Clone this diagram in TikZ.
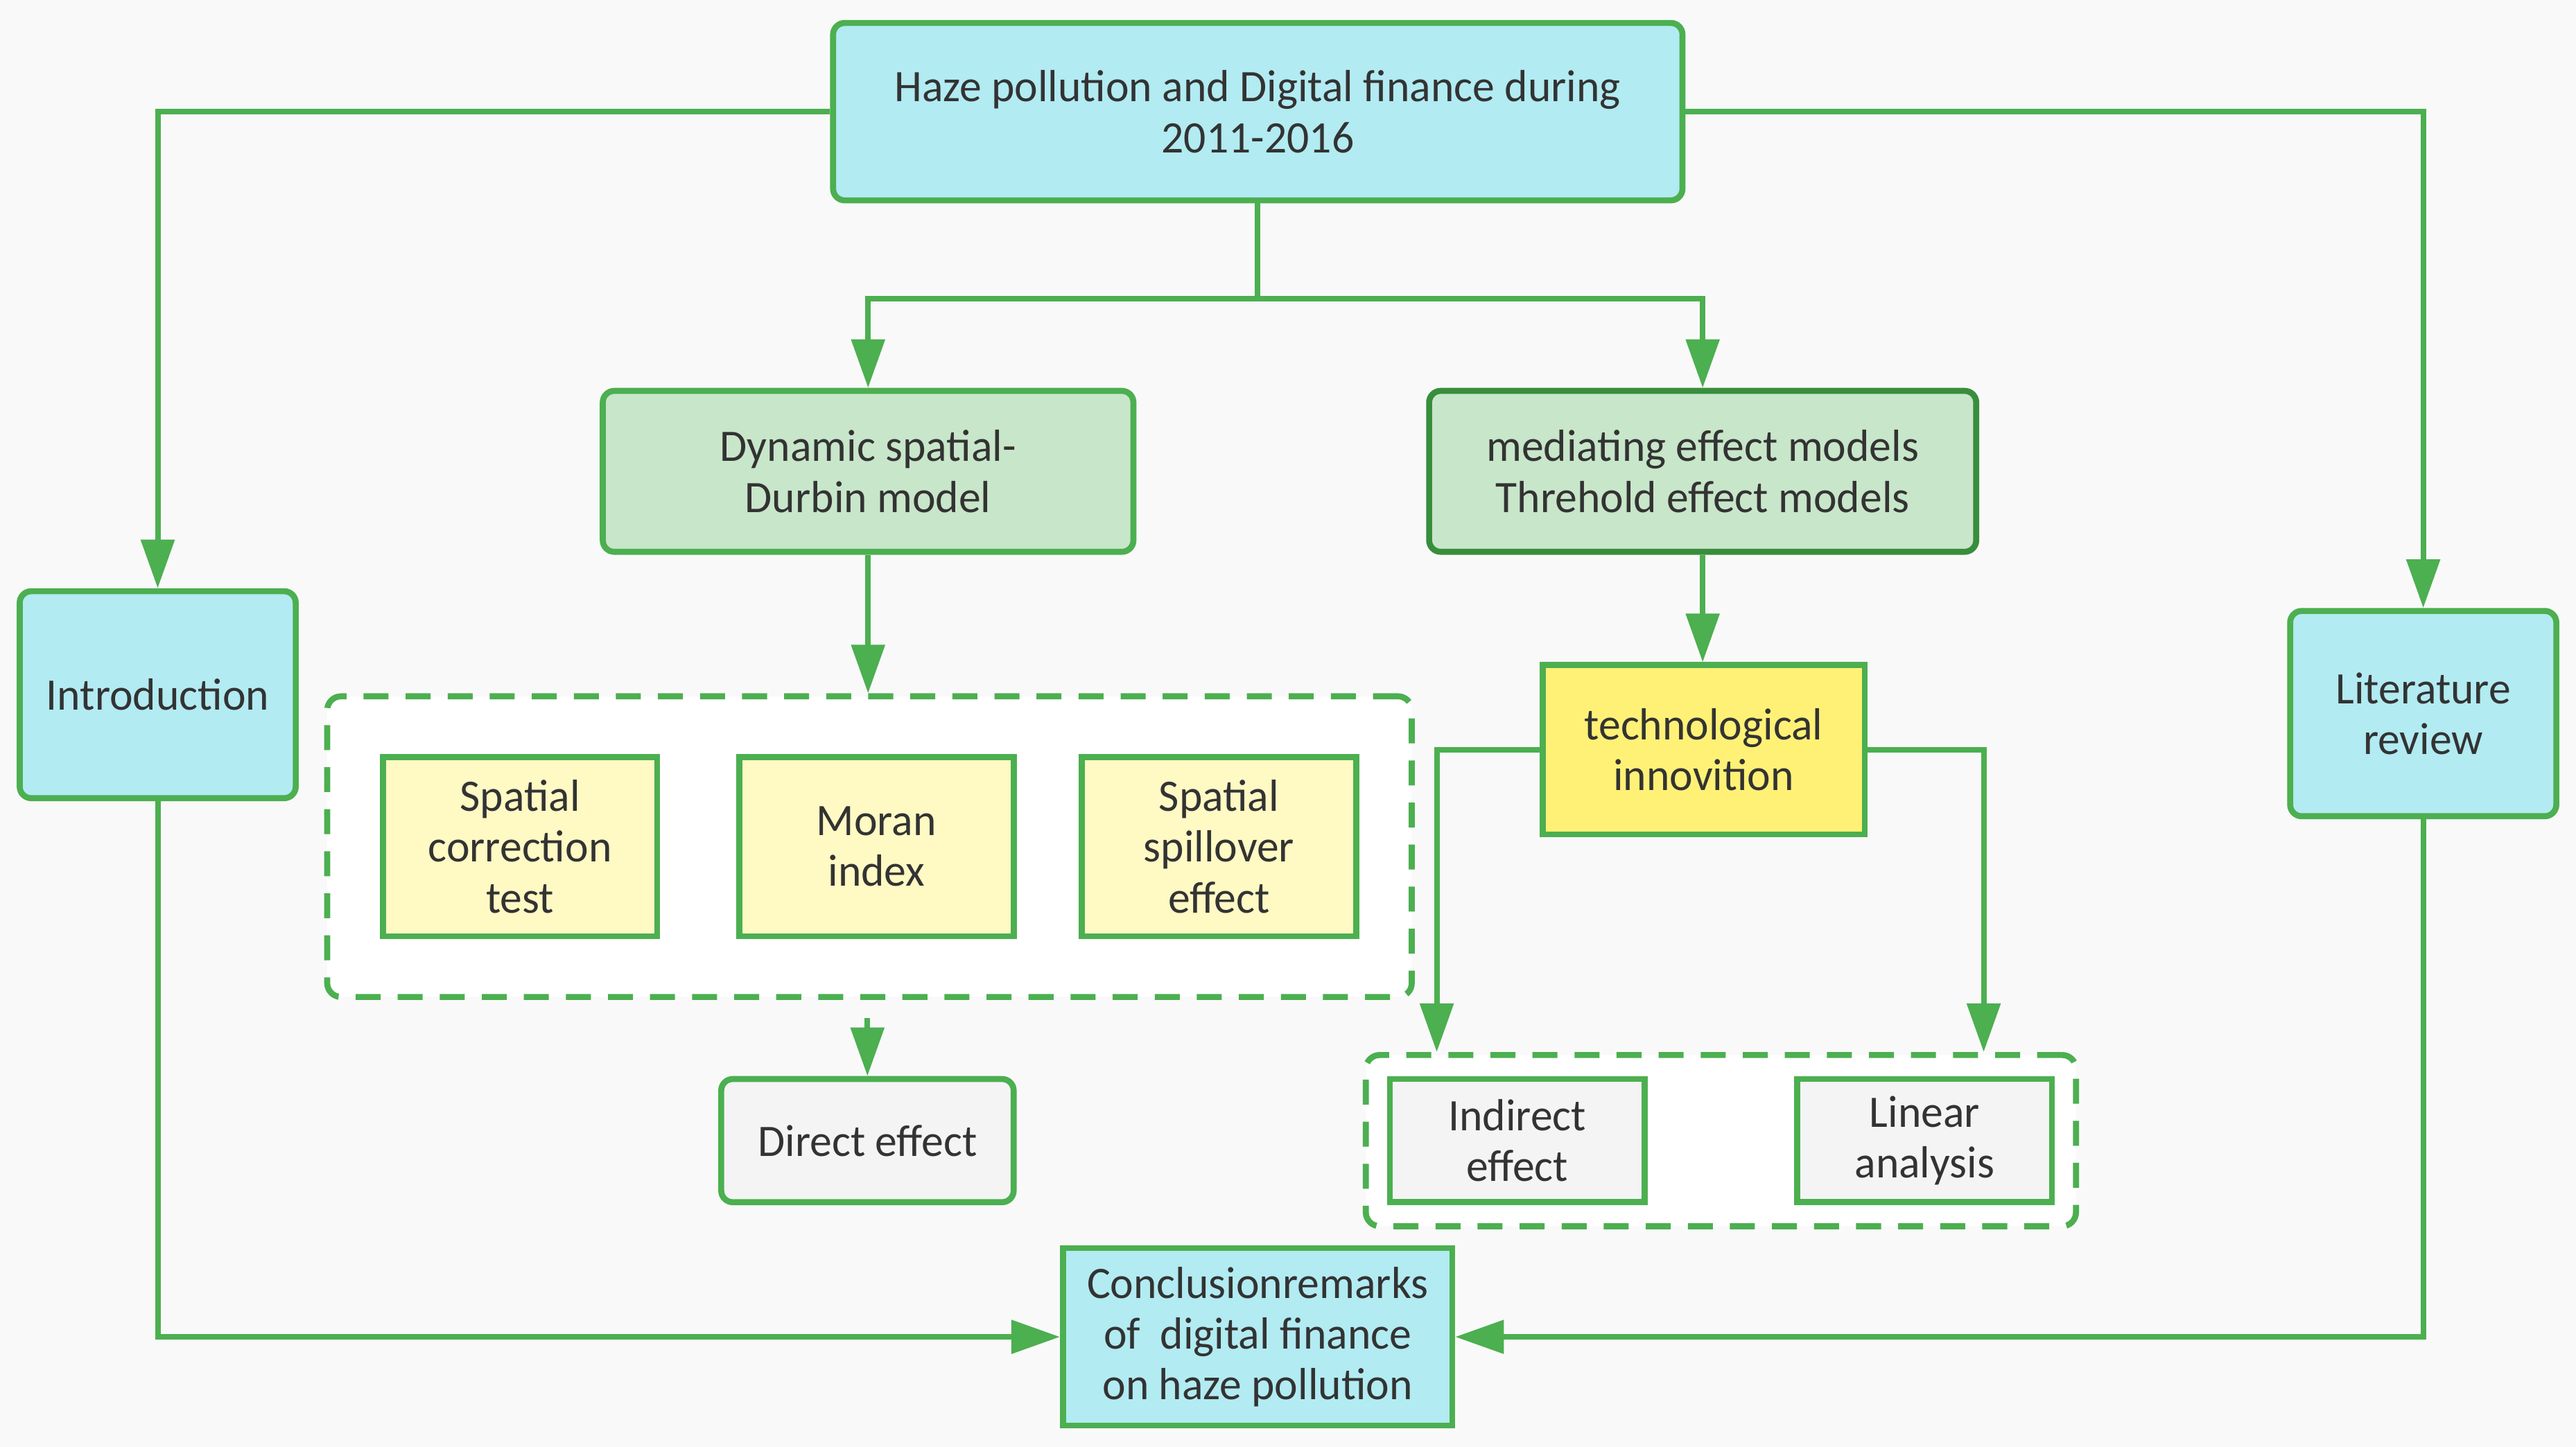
\documentclass[tikz,border=0pt]{standalone}
\usepackage{fontspec}
\setmainfont{Carlito}[FakeStretch=0.98]
\usepackage{xcolor}
\usepackage{tikz}
\usetikzlibrary{shapes,arrows,positioning,calc,fit,backgrounds,arrows.meta}

\definecolor{bgcol}{HTML}{F9F9F9}
\definecolor{lnkgreen}{HTML}{4CAF50}
\definecolor{darkgreen}{HTML}{388E3C}
\definecolor{cyanfill}{HTML}{B2EBF2}
\definecolor{mintfill}{HTML}{C8E6C9}
\definecolor{paleyellow}{HTML}{FFF9C4}
\definecolor{brightyellow}{HTML}{FFF176}
\definecolor{greyfill}{HTML}{F4F4F4}
\definecolor{txtcol}{HTML}{333333}

\begin{document}
\begin{tikzpicture}[
    box/.style={draw=lnkgreen, line width=2.6pt, align=center, text=txtcol, inner sep=0pt,
        font=\fontsize{19.5}{22}\selectfont},
    cyanbox/.style={box, fill=cyanfill},
    mintbox/.style={box, fill=mintfill, rounded corners=5pt},
    testbox/.style={box, fill=paleyellow, minimum width=4.175cm, minimum height=2.725cm},
    effbox/.style={box, fill=greyfill, minimum height=1.875cm},
    group/.style={draw=lnkgreen, line width=2.6pt, fill=white, rounded corners=6pt,
        dash pattern=on 0.38cm off 0.26cm},
    link/.style={draw=lnkgreen, line width=2.4pt, -{Triangle[length=0.74cm, width=0.5cm]}},
    plain/.style={draw=lnkgreen, line width=2.4pt}
]
    % Background
    \begin{scope}[on background layer]
    \fill[bgcol] (0,0) rectangle (39.2,22.025);
    \end{scope}
    \useasboundingbox (0,0) rectangle (39.2,22.025);

    % Top topic
    \node[cyanbox, rounded corners=5pt, minimum width=12.925cm, minimum height=2.7cm] (topic) at (19.14,20.325)
        {Haze pollution and Digital finance during\\2011-2016};

    % Models
    \node[mintbox, minimum width=8.075cm, minimum height=2.45cm] (durbin) at (13.21,14.85)
        {Dynamic spatial-\\Durbin model};
    \node[mintbox, draw=darkgreen, minimum width=8.325cm, minimum height=2.45cm] (mediate) at (25.91,14.85)
        {mediating effect models\\Threhold effect models};

    % Side chapters
    \node[cyanbox, rounded corners=5pt, minimum width=4.2cm, minimum height=3.15cm] (intro) at (2.4,11.45)
        {Introduction};
    \node[cyanbox, rounded corners=5pt, minimum width=4.05cm, minimum height=3.125cm] (review) at (36.875,11.1625)
        {Literature\\review};

    % Spatial tests
    \node[testbox] (correction) at (7.9125,9.1375) {Spatial\\correction\\test};
    \node[testbox] (moran) at (13.3375,9.1375) {Moran\\index};
    \node[testbox] (spillover) at (18.55,9.1375) {Spatial\\spillover\\effect};
    \begin{scope}[on background layer]
    \node[group, fit=(correction)(moran)(spillover), inner xsep=0.8cm, inner ysep=0.88cm] (tests) {};
    \end{scope}

    % Mechanism
    \node[box, fill=brightyellow, minimum width=4.9cm, minimum height=2.575cm] (innov) at (25.925,10.6125)
        {technological\\innovition};

    % Effects
    \node[effbox, rounded corners=5pt, minimum width=4.45cm] (direct) at (13.2,4.6625) {Direct effect};
    \node[effbox, minimum width=3.875cm] (indirect) at (23.0875,4.6625) {Indirect\\effect};
    \node[effbox, minimum width=3.875cm] (linear) at (29.2875,4.6625) {Linear\\analysis};
    \begin{scope}[on background layer]
    \node[group, fit=(indirect)(linear), inner xsep=0.32cm, inner ysep=0.32cm] (effects) {};
    \end{scope}

    % Conclusion
    \node[cyanbox, minimum width=5.925cm, minimum height=2.7cm] (concl) at (19.1375,1.675)
        {Conclusionremarks\\of \ digital finance\\on haze pollution};

    % Connectors
    \coordinate (split) at ($(topic.south)+(0,-1.45)$);
    \draw[plain] (topic.south) -- (split);
    \draw[link] (split) -| (durbin.north);
    \draw[link] (split) -| (mediate.north);
    \draw[link] (topic.west) -| (intro.north);
    \draw[link] (topic.east) -| (review.north);
    \draw[link] (durbin.south) -- (durbin.south |- tests.north);
    \draw[link] (mediate.south) -- (mediate.south |- innov.north);
    \draw[link] ([yshift=-0.28cm]direct.north |- tests.south) -- (direct.north);
    \draw[link] (innov.west) -| ([xshift=1.125cm]effects.north west);
    \draw[link] (innov.east) -| ([xshift=-1.45cm]effects.north east);
    \draw[link] (intro.south) |- (concl.west);
    \draw[link] (review.south) |- (concl.east);
\end{tikzpicture}
\end{document}
